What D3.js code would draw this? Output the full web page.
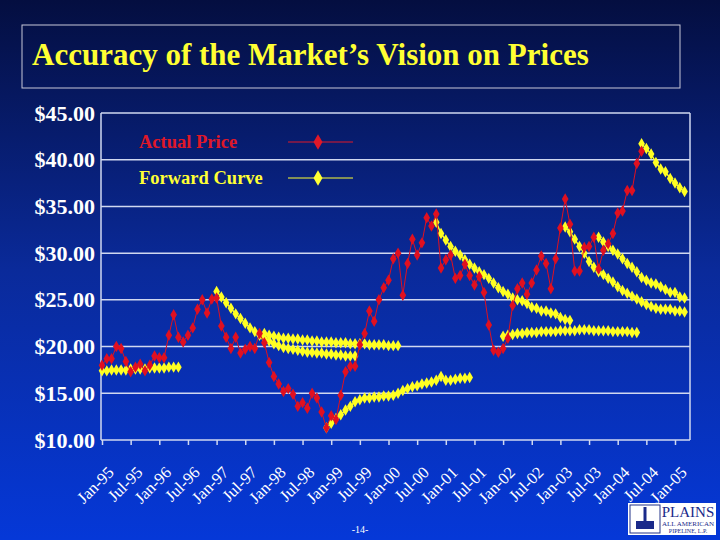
<!DOCTYPE html>
<html><head><meta charset="utf-8">
<script src="https://cdn.jsdelivr.net/npm/d3@7"></script>
<style>body{margin:0;background:#000}svg{display:block}</style>
</head><body>
<svg id="c" width="720" height="540"></svg>
<script>
const xLabels = ["Jan-95","Jul-95","Jan-96","Jul-96","Jan-97","Jul-97","Jan-98","Jul-98","Jan-99","Jul-99","Jan-00","Jul-00","Jan-01","Jul-01","Jan-02","Jul-02","Jan-03","Jul-03","Jan-04","Jul-04","Jan-05"];
const yTicks = [10,15,20,25,30,35,40,45];
const actualPrice = [18.0,18.7,18.7,20.0,19.8,18.4,17.3,17.8,18.1,17.4,18.0,19.0,18.8,18.8,21.2,23.4,21.0,20.5,21.2,22.0,24.0,25.0,23.6,25.1,25.2,22.2,21.0,19.8,21.0,19.3,19.7,20.0,19.8,21.4,20.4,18.3,16.8,16.0,15.2,15.5,14.9,13.6,14.0,13.4,15.0,14.5,13.0,11.3,12.6,12.2,14.8,17.3,17.9,17.9,20.2,21.4,23.8,22.7,25.0,
 26.3,27.1,29.4,30.0,25.5,28.9,31.5,29.8,31.1,33.8,32.9,34.2,28.4,29.3,29.8,27.3,27.6,28.8,27.6,26.6,27.5,25.8,22.3,19.6,19.4,19.8,20.9,24.4,26.2,26.8,25.6,26.8,28.2,29.7,28.9,26.2,29.4,32.7,35.8,33.1,28.1,28.1,30.6,30.7,31.7,28.3,30.3,31.0,32.1,34.3,34.5,36.7,36.7,39.6,40.9];
// forward curves: start month index (0 = Jan-95) and monthly values
const curveStarts = [0,24,34,47,70,84,97,104,113];
const curve1 = [17.4,17.4,17.5,17.5,17.5,17.5,17.6,17.6,17.6,17.6,17.7,17.7,17.7,17.7,17.8,17.8,17.8];
const curve2 = [25.9,25.3,24.7,24.1,23.5,23.0,22.5,22.0,21.6,21.2,20.9,20.6,20.3,20.1,19.9,19.8,19.7,19.6,19.5,19.4,19.4,19.3,19.3,19.2,19.2,19.1,19.1,19.0,19.0,19.0];
const curve3 = [21.4,21.2,21.1,21.0,20.9,20.9,20.8,20.8,20.7,20.7,20.6,20.6,20.5,20.5,20.5,20.4,20.4,20.4,20.3,20.3,20.3,20.3,20.2,20.2,20.2,20.2,20.1,20.1,20.1];
const curve4 = [11.3,11.8,12.3,12.7,13.2,13.6,14.1,14.3,14.5,14.5,14.6,14.6,14.7,14.7,14.8,15.0,15.3,15.5,15.7,15.8,16.0,16.1,16.2,16.4,16.8,16.4,16.4,16.5,16.6,16.6,16.7];
const curve5 = [33.3,32.1,31.4,30.7,30.2,29.8,29.3,28.8,28.4,28.0,27.7,27.3,26.8,26.3,25.9,25.6,25.2,25.0,24.9,24.6,24.2,24.1,23.8,23.8,23.6,23.5,23.1,22.9,22.8];
const curve6 = [21.1,21.2,21.3,21.4,21.4,21.5,21.5,21.5,21.6,21.6,21.6,21.6,21.7,21.7,21.7,21.7,21.8,21.8,21.8,21.7,21.7,21.7,21.7,21.6,21.6,21.6,21.6,21.5,21.5];
const curve7 = [32.8,32.3,31.5,30.7,30.0,29.1,28.5,28.0,27.7,27.3,26.9,26.4,26.0,25.7,25.4,25.1,24.8,24.5,24.3,24.1,24.0,24.0,24.0,23.8,23.8,23.7];
const curve8 = [31.7,31.2,30.7,30.3,29.9,29.4,28.9,28.5,28.0,27.4,27.1,26.8,26.7,26.4,26.1,25.8,25.8,25.3,25.2];
const curve9 = [41.7,41.2,40.6,39.7,39.0,38.7,38.0,37.5,37.0,36.6];
const curves = [curve1,curve2,curve3,curve4,curve5,curve6,curve7,curve8,curve9];

const svg = d3.select("#c");
const defs = svg.append("defs");
const g = defs.append("linearGradient").attr("id","bg").attr("x1",0).attr("y1",0).attr("x2",0).attr("y2",1);
g.append("stop").attr("offset","0%").attr("stop-color","#040e40");
g.append("stop").attr("offset","50%").attr("stop-color","#0a2a9a");
g.append("stop").attr("offset","100%").attr("stop-color","#0538d8");
svg.append("rect").attr("width",720).attr("height",540).attr("fill","url(#bg)");

svg.append("rect").attr("x",22).attr("y",25).attr("width",658).attr("height",63)
  .attr("fill","none").attr("stroke","#c8c8d8").attr("stroke-width",1);
svg.append("text").attr("x",32).attr("y",65).attr("fill","#ffff33")
  .attr("font-family","Liberation Serif").attr("font-weight","bold").attr("font-size",31)
  .text("Accuracy of the Market\u2019s Vision on Prices");

const L=101,R=690,T=113,B=440;
const x = d3.scaleLinear().domain([0,123]).range([L+1,L+1+123*4.775]);
const y = d3.scaleLinear().domain([10,45]).range([B,T]);

svg.append("g").selectAll("line").data(yTicks).join("line")
  .attr("x1",L).attr("x2",R).attr("y1",d=>y(d)).attr("y2",d=>y(d))
  .attr("stroke","#d0d8f0").attr("stroke-width",1.5);
svg.append("line").attr("x1",L).attr("x2",L).attr("y1",T).attr("y2",B).attr("stroke","#d0d8f0").attr("stroke-width",1.5);
svg.append("line").attr("x1",R).attr("x2",R).attr("y1",T).attr("y2",B).attr("stroke","#d0d8f0").attr("stroke-width",1.5);

const yAxis = d3.axisLeft(y).tickValues(yTicks).tickFormat(d=>"$"+d3.format(".2f")(d)).tickSize(0).tickPadding(6);
svg.append("g").attr("transform",`translate(${L},0)`).call(yAxis)
  .call(a=>a.select(".domain").remove())
  .selectAll("text").attr("fill","#fff").attr("font-family","Liberation Serif").attr("font-weight","bold").attr("font-size",22);

const xt = xLabels.map((d,i)=>i*6);
const xAxis = d3.axisBottom(x).tickValues(xt).tickFormat((d,i)=>xLabels[i]).tickSize(5).tickPadding(2);
const xa = svg.append("g").attr("transform",`translate(0,${B})`).call(xAxis);
xa.select(".domain").remove();
xa.selectAll("line").attr("stroke","#d0d8f0").attr("stroke-width",1.5);
xa.selectAll("text").attr("fill","#fff").attr("font-family","Liberation Serif").attr("font-size",16.5)
  .attr("text-anchor","end").attr("dy","0.3em").attr("transform","translate(4,25) rotate(-45)");

const diamond = d3.symbol().type(d3.symbolDiamond).size(38);
curves.forEach((c,k)=>{
  const pts = c.map((v,i)=>[curveStarts[k]+i,v]);
  svg.append("path").datum(pts).attr("fill","none").attr("stroke","#ffff22").attr("stroke-width",1.5)
    .attr("d",d3.line().x(d=>x(d[0])).y(d=>y(d[1])));
  svg.append("g").selectAll("path").data(pts).join("path").attr("d",diamond)
    .attr("transform",d=>`translate(${x(d[0])},${y(d[1])})`).attr("fill","#ffff22");
});
const ap = actualPrice.map((v,i)=>[i,v]);
svg.append("path").datum(ap).attr("fill","none").attr("stroke","#e01020").attr("stroke-width",1)
  .attr("d",d3.line().x(d=>x(d[0])).y(d=>y(d[1])));
svg.append("g").selectAll("path").data(ap).join("path").attr("d",diamond)
  .attr("transform",d=>`translate(${x(d[0])},${y(d[1])})`).attr("fill","#e01020");

const leg=[["Actual Price","#e01828",142],["Forward Curve","#ffff33",178]];
leg.forEach(([t,c,yy])=>{
  svg.append("text").attr("x",139).attr("y",yy+6).attr("fill",c).attr("font-family","Liberation Serif")
    .attr("font-weight","bold").attr("font-size",18.5).text(t);
  svg.append("line").attr("x1",288).attr("x2",353).attr("y1",yy).attr("y2",yy).attr("stroke",c).attr("stroke-width",1);
  svg.append("path").attr("d",d3.symbol().type(d3.symbolDiamond).size(70)).attr("transform",`translate(318,${yy})`).attr("fill",c);
});

svg.append("text").attr("x",360).attr("y",533).attr("text-anchor","middle").attr("fill","#fff")
  .attr("font-family","Liberation Serif").attr("font-size",10).text("-14-");

const lg = svg.append("g").attr("transform","translate(628,503)");
lg.append("rect").attr("width",88).attr("height",32).attr("fill","#fff");
lg.append("rect").attr("x",2).attr("y",2).attr("width",30).attr("height",28).attr("fill","#fff").attr("stroke","#223388");
lg.append("rect").attr("x",8).attr("y",18).attr("width",18).attr("height",8).attr("fill","#1a2a8a");
lg.append("line").attr("x1",17).attr("x2",17).attr("y1",4).attr("y2",18).attr("stroke","#1a2a8a").attr("stroke-width",3);
lg.append("text").attr("x",60).attr("y",14).attr("text-anchor","middle").attr("fill","#1a2a8a").attr("font-family","Liberation Serif").attr("font-size",15).text("PLAINS");
lg.append("text").attr("x",60).attr("y",23).attr("text-anchor","middle").attr("fill","#1a2a8a").attr("font-family","Liberation Serif").attr("font-size",7).text("ALL AMERICAN");
lg.append("text").attr("x",60).attr("y",30).attr("text-anchor","middle").attr("fill","#1a2a8a").attr("font-family","Liberation Serif").attr("font-size",6).text("PIPELINE, L.P.");
</script>
</body></html>
